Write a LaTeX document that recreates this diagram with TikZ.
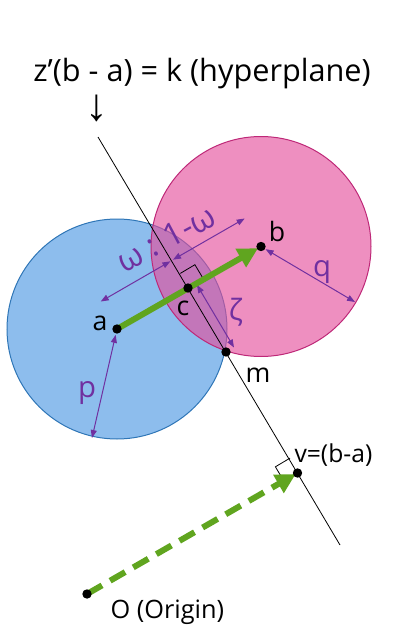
\documentclass[tikz,border=0pt]{standalone}
\usepackage{fontspec}
\setmainfont{Open Sans}
\newfontfamily\arrowfont{Liberation Sans}
\usetikzlibrary{arrows.meta}

\tikzset{every picture/.style={line width=0.75pt}}

\begin{document}
\begin{tikzpicture}[x=0.75pt,y=0.75pt,yscale=-1,xscale=1,
  dim/.style={color={rgb, 255:red, 112; green, 48; blue, 160 }, line width=0.75pt,
    {Triangle[length=6pt,width=4.5pt]}-{Triangle[length=6pt,width=4.5pt]}},
  dot/.style={fill=black},
  blk/.style={inner sep=0.75pt, font=\fontsize{20}{24}\selectfont},
  grk/.style={inner sep=0.75pt, text={rgb, 255:red, 112; green, 48; blue, 160 }, font=\fontsize{22}{26}\selectfont},
  vec/.style={color={rgb, 255:red, 96; green, 165; blue, 31 }, line width=4.5pt, -{Triangle[length=15pt,width=15pt]}}]
\useasboundingbox (0,0) rectangle (408,635);

% points
\coordinate (a) at (117,329);
\coordinate (b) at (261,246.5);
\coordinate (c) at (188,288);
\coordinate (m) at (226,352);
\coordinate (v) at (297.5,473);
\coordinate (O) at (87,594);
\coordinate (hp1) at (98,137);
\coordinate (hp2) at (340,545);

%Shape: Circle [id:blue]
\draw  [draw={rgb, 255:red, 46; green, 117; blue, 182 }, fill={rgb, 255:red, 141; green, 189; blue, 237 }, fill opacity=1 ] (a) circle [radius=110] ;
%Shape: Circle [id:pink]
\draw  [draw={rgb, 255:red, 190; green, 40; blue, 120 }, fill={rgb, 255:red, 228; green, 78; blue, 155 }, fill opacity=0.63 ] (b) circle [radius=110] ;

%Straight Lines [id:hyperplane]
\draw  [line width=0.6pt]  (hp1) -- (hp2) ;

%Right angle marks
\draw  [line width=0.6pt]  (180.3,273.4) -- (194.9,264.7) -- (203.6,279.3) ;
\draw  [line width=0.6pt]  (290,458.1) -- (275.4,466.8) -- (284.1,481.4) ;

%Arrows [id:dims]
\coordinate (a1) at (100.7,301.5);
\coordinate (c1) at (170.4,261.3);
\coordinate (c2) at (173,259.7);
\coordinate (b1) at (244.7,218.5);
\coordinate (z1) at (197,285);
\coordinate (z2) at (234,347.5);
\coordinate (pend) at (92,438);
\coordinate (qend) at (355,302);
\draw  [dim]  (a1) -- (c1) ;
\draw  [dim]  (c2) -- (b1) ;
\draw  [dim]  (z1) -- (z2) ;
\draw  [dim, shorten <=4.5pt]  (a) -- (pend) ;
\draw  [dim, shorten <=4pt]  (b) -- (qend) ;

%Vectors
\draw  [vec, shorten >=2.5pt]  (a) -- (b) ;
\draw  [vec, dash pattern=on 13pt off 7pt, shorten >=1.5pt]  (O) -- (v) ;

%Dots
\foreach \p in {a,b,c,m,v,O}
  \fill  [dot]  (\p) circle [radius=4.7] ;

% Text Node
\draw (202,82) node [anchor=base][blk, font=\fontsize{23}{27}\selectfont] (hyperlbl) {z\char"0027(b - a) = k (hyperplane)};
% Text Node
\draw (97,108) node [inner sep=0pt, font=\arrowfont\fontsize{34}{38}\selectfont] (downarr) {↓};
% Text Node
\draw (100,323) node [blk] (lbla) {a};
% Text Node
\draw (277,231) node [blk] (lblb) {b};
% Text Node
\draw (183,308) node [blk] (lblc) {c};
% Text Node
\draw (258,375) node [blk] (lblm) {m};
% Text Node
\draw (293,462) node [anchor=base west][blk, font=\fontsize{18.5}{22}\selectfont] (lblv) {v=(b-a)};
% Text Node
\draw (109,618) node [anchor=base west][blk, font=\fontsize{19}{23}\selectfont] (lblO) {O (Origin)};
% Text Node
\draw (166,238.5) node [grk, rotate=28, font=\fontsize{24}{28}\selectfont] (ratio) {ω : 1-ω};
% Text Node
\draw (236,312) node [grk] (zeta) {ζ};
% Text Node
\draw (87,393) node [grk] (lblp) {p};
% Text Node
\draw (322,272) node [grk] (lblq) {q};

\end{tikzpicture}
\end{document}
